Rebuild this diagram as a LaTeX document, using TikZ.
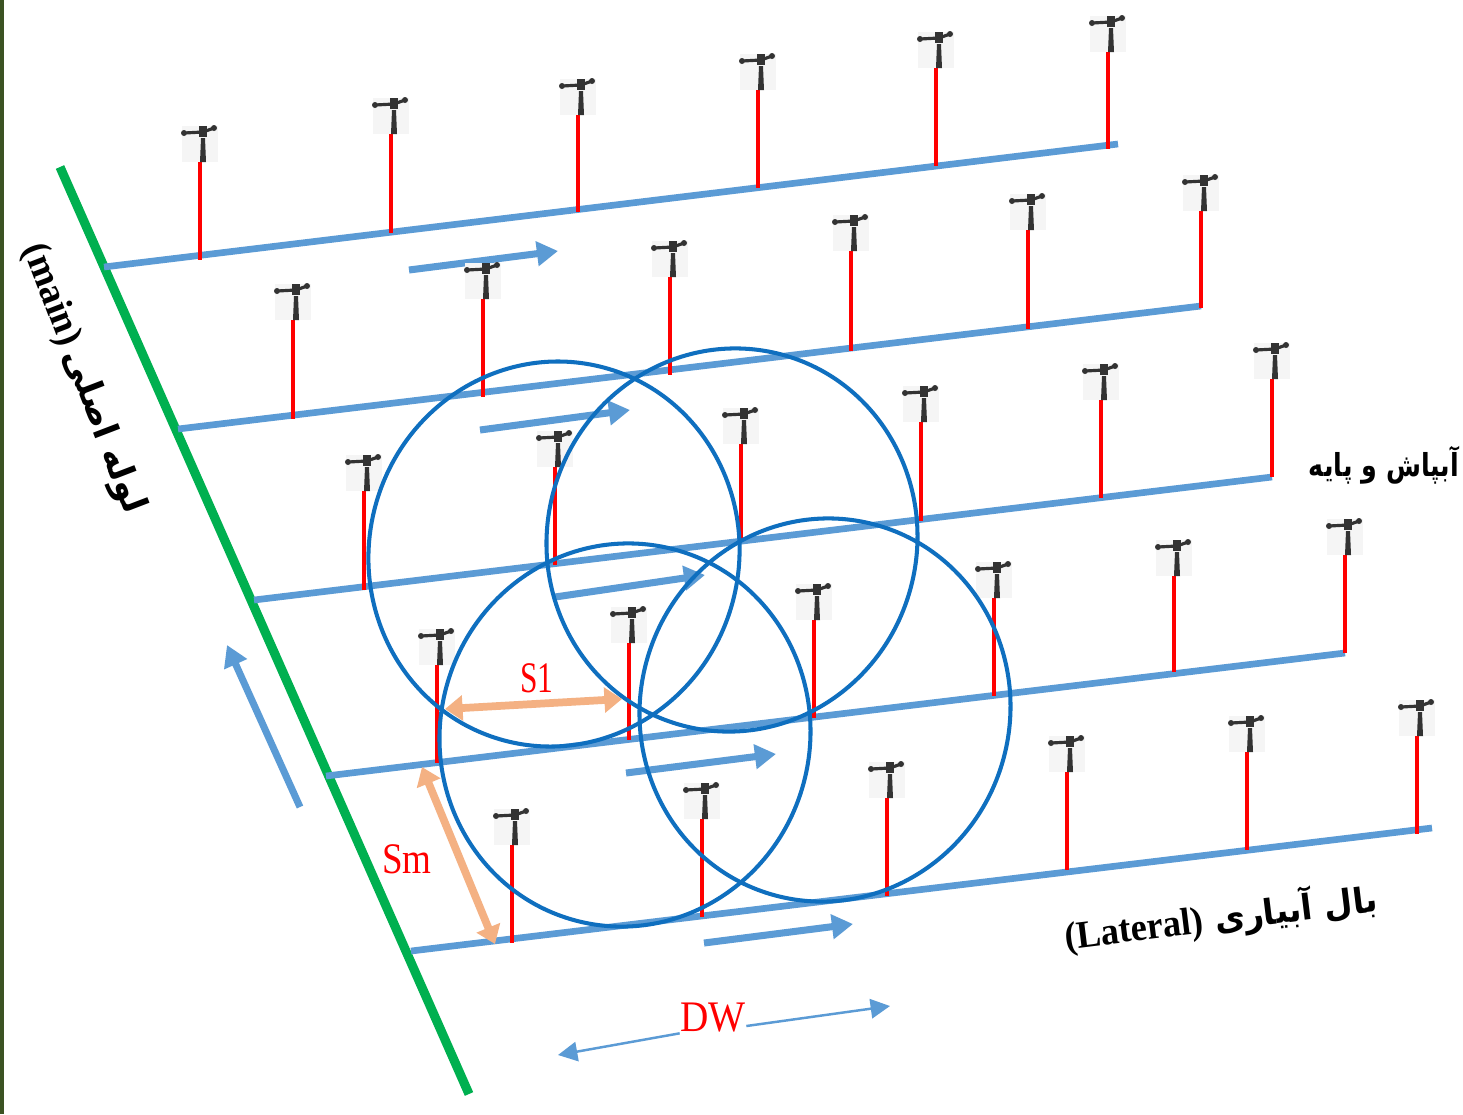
\documentclass[tikz,border=0pt]{standalone}
\usepackage{fontspec}
\setmainfont{Liberation Serif}
\newfontfamily\arabicfont[Script=Arabic]{DejaVu Sans}
\TeXXeTstate=1
\usepackage{xcolor}
\usetikzlibrary{arrows.meta}
\definecolor{mainpipe}{HTML}{00B050}
\definecolor{lateralblue}{HTML}{5B9BD5}
\definecolor{wetcircle}{HTML}{0F6FBF}
\definecolor{spacing}{HTML}{F4B183}
\definecolor{sprinklerbg}{HTML}{F5F5F5}
\definecolor{sprinklerdark}{HTML}{333333}
\definecolor{edgestrip}{HTML}{3B5323}
\tikzset{
  mainline/.style={mainpipe,line width=2.6pt},
  lateral/.style={lateralblue,line width=1.9pt},
  riser/.style={red,line width=1.3pt},
  flow/.style={lateralblue,line width=2pt,-{Triangle[length=6pt,width=6.8pt]}},
  wetted/.style={wetcircle,line width=1.15pt},
  spacingarrow/.style={spacing,line width=2.2pt,{Triangle[length=5pt,width=7pt]}-{Triangle[length=5pt,width=7pt]}},
  dwarrow/.style={lateralblue,line width=0.7pt,-{Triangle[length=5.5pt,width=5.5pt]}},
  redlabel/.style={red,font=\fontsize{12.4}{14}\selectfont,inner sep=0pt,transform shape},
  blacklabel/.style={black,inner sep=0pt,transform shape}
}
\newcommand{\sprinkler}[2]{%
  \begin{scope}[shift={(#1,#2)}]
    \fill[sprinklerbg] (-18,-36) rectangle (18,0);
    \fill[sprinklerdark] (0,0) -- (6,0) -- (5,-24) -- (1,-24) -- cycle;
    \fill[sprinklerdark] (-1,-36) rectangle (7,-25);
    \draw[sprinklerdark,line width=0.9pt] (-16,-29) -- (3,-30) -- (14,-34);
    \fill[sprinklerdark] (-16,-29) circle [radius=3];
    \fill[sprinklerdark] (14,-34) circle [radius=3];
  \end{scope}
}
\begin{document}
\begin{tikzpicture}[x=0.01cm,y=-0.01cm]
  \useasboundingbox (0,0) rectangle (1463,1114);
  \fill[white] (0,0) rectangle (1463,1114);
  \fill[edgestrip] (0,0) rectangle (4,1114);
  % main pipe
  \draw[mainline] (60,167) -- (469,1094);
  % laterals
  \foreach \xa/\ya/\xb/\yb in {104/267/1118/144,178/429/1201/306,254/600/1272/477,326/776/1345/653,411/951/1432/828}
    \draw[lateral] (\xa,\ya) -- (\xb,\yb);
  % flow direction
  \foreach \xa/\ya/\xb/\yb in {409/270/558/251,480/430/630/410,555/597/705/575,626/773/776/754,704/943/853/924,300/807/227/645}
    \draw[flow] (\xa,\ya) -- (\xb,\yb);
  % risers with sprinklers
  \foreach \x/\ya/\yb in {200/162/260,391/134/233,578/115/212,758/90/188,936/68/166,1108/52/149,
    293/320/419,483/299/397,670/277/375,851/251/351,1028/230/329,1201/211/308,
    364/491/590,555/467/565,741/444/541,921/422/521,1101/400/498,1272/379/477,
    437/665/763,629/643/740,814/620/718,994/598/696,1174/576/672,1345/555/653,
    512/845/943,702/819/917,887/798/896,1067/772/870,1247/752/850,1417/736/834}{
    \draw[riser] (\x,\ya) -- (\x,\yb);
    \sprinkler{\x}{\ya}
  }
  % wetted circles
  \draw[wetted] (554,554) circle [x radius=185,y radius=193,rotate=-15];
  \draw[wetted] (732,540) circle [x radius=185,y radius=192,rotate=-15];
  \draw[wetted] (625,735) circle [x radius=185,y radius=192,rotate=-15];
  \draw[wetted] (825,710) circle [x radius=185,y radius=192,rotate=-15];
  % spacings
  \node[redlabel,xscale=0.72] (sl) at (537,678) {S1};
  \node[redlabel,xscale=0.85] (sm) at (407,859) {Sm};
  \node[redlabel,xscale=0.9] (dw) at (713,1018) {DW};
  \coordinate (slleft) at (445,709);
  \coordinate (slright) at (622,699);
  \coordinate (smtop) at (422,767);
  \coordinate (smbottom) at (495,944);
  \coordinate (dwleft) at (558,1055);
  \coordinate (dwright) at (890,1006);
  \draw[spacingarrow] (slleft) -- (slright);
  \draw[spacingarrow] (smtop) -- (smbottom);
  \draw[dwarrow] (dw.south west) -- (dwleft);
  \draw[dwarrow] ([yshift=-0.08cm]dw.east) -- (dwright);
  % labels
  \node[blacklabel,xscale=0.8] (sprinklerlabel) at (1384,465) {\arabicfont\bfseries\fontsize{9}{11}\selectfont\beginR آبپاش و پایه\endR};
  \node[blacklabel,rotate=7,xscale=0.94] (laterallabel) at (1221,918) {\arabicfont\bfseries\fontsize{10}{12}\selectfont\beginR بال آبیاری \beginL{\rmfamily\fontsize{11}{12}\selectfont(Lateral)}\endL\endR};
  \node[blacklabel,rotate=-69,xscale=0.97] (mainlabel) at (83,379) {\arabicfont\bfseries\fontsize{10}{12}\selectfont\beginR لوله اصلی\kern2pt\beginL{\rmfamily\fontsize{11}{12}\selectfont(main)}\endL\endR};
\end{tikzpicture}
\end{document}
